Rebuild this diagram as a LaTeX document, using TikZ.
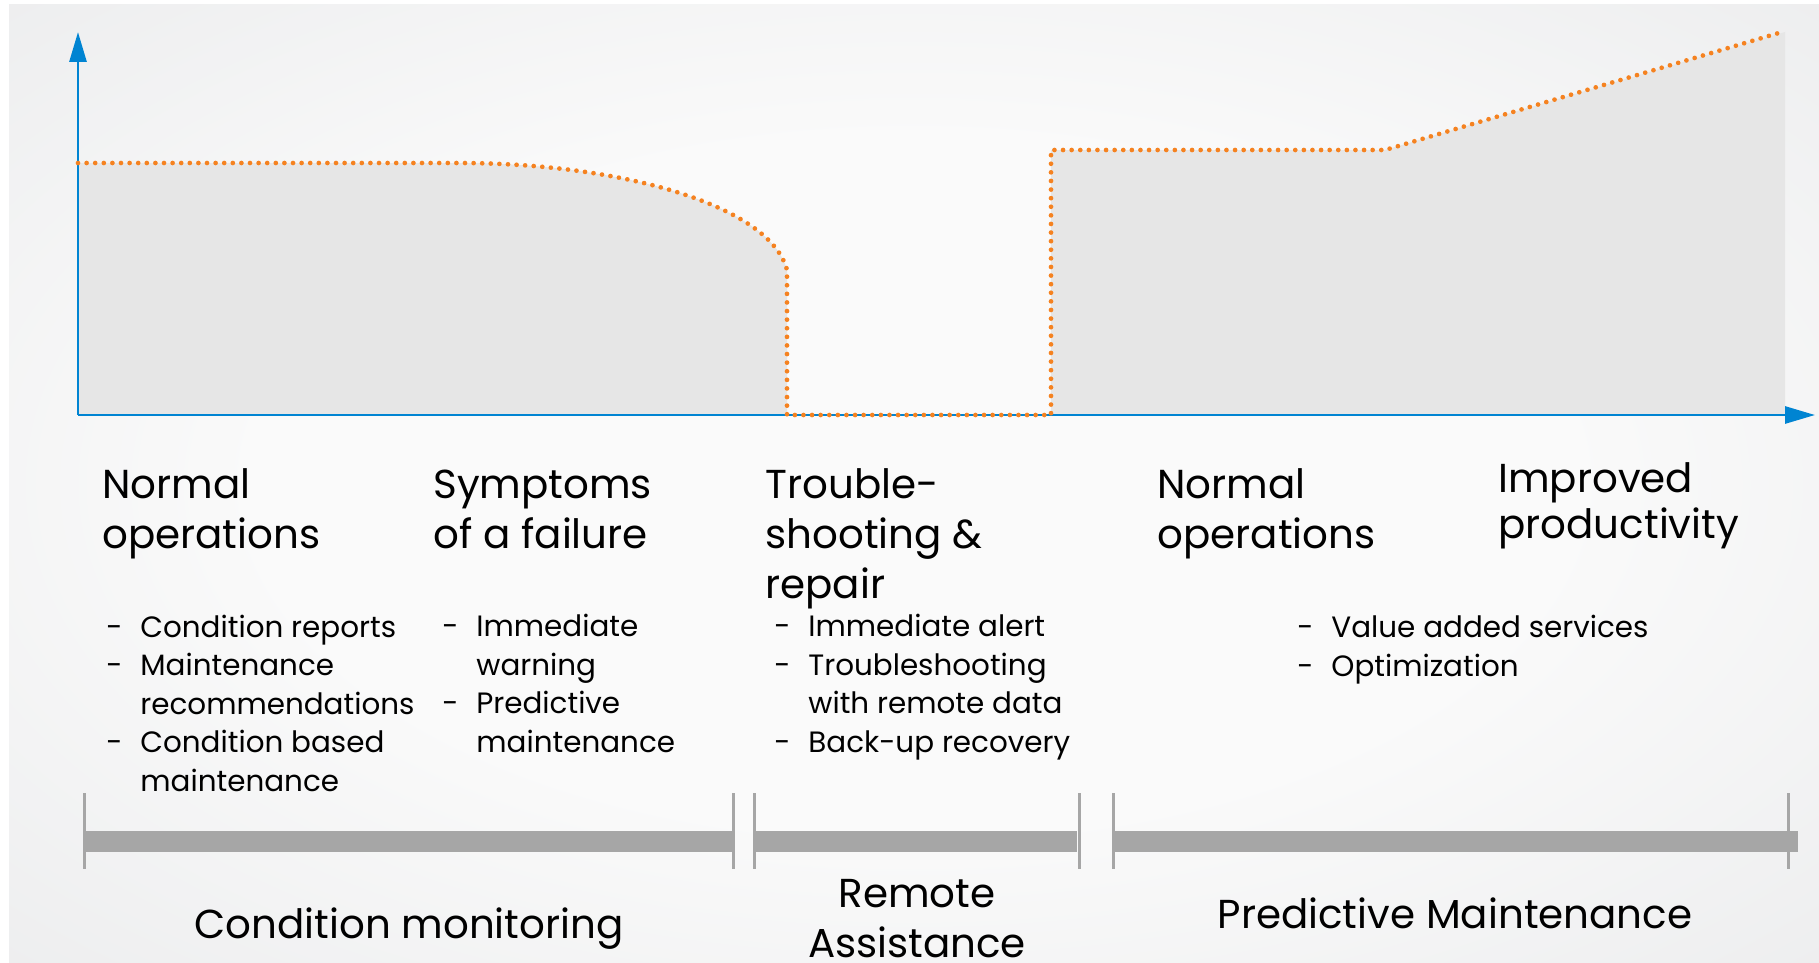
\documentclass[tikz,border=0pt]{standalone}
\usepackage{fontspec}
\setmainfont{Poppins}
\usetikzlibrary{arrows.meta,positioning}
\definecolor{axisblue}{RGB}{0,132,210}
\definecolor{curveorange}{RGB}{245,130,32}
\definecolor{areagray}{RGB}{230,230,230}
\definecolor{bargray}{RGB}{166,166,166}
\definecolor{bgdark}{RGB}{212,213,216}
\definecolor{bgmid}{RGB}{227,228,230}
\definecolor{bglight}{RGB}{250,250,250}
\pgfdeclareradialshading{backdrop}{\pgfpoint{0bp}{0bp}}{color(0bp)=(bglight); color(18bp)=(bglight); color(50bp)=(bgmid); color(72bp)=(bgdark)}
\newcommand{\dashitem}{\makebox[17pt][l]{-}}
\newcommand{\dashgap}{\hspace*{17pt}}
\tikzset{axis line/.style={axisblue,line width=1.4pt,-{Triangle[length=15pt,width=8.5pt]}},
         level curve/.style={curveorange,line width=2.35pt,line cap=round,dash pattern=on 0pt off 4.3pt},
         area/.style={fill=areagray,draw=none},
         phase bar/.style={bargray,line width=10.5pt},
         phase tick/.style={bargray,line width=1.5pt},
         stage title/.style={anchor=base west,inner sep=0pt,align=left,font=\fontsize{20.2}{25}\selectfont},
         task list/.style={anchor=base west,inner sep=0pt,align=left,font=\fontsize{14.7}{19.2}\selectfont},
         phase label/.style={anchor=base,inner sep=0pt,align=center,font=\fontsize{20.2}{25}\selectfont},
}
\begin{document}
\begin{tikzpicture}[x=0.5pt,y=-0.5pt]
\useasboundingbox (0,0) rectangle (1819,963);
\fill[white] (0,0) rectangle (1819,963);
\shade[shading=backdrop] (9,5) rectangle (1819,963);
% \draw[help lines,step=100] (0,0) grid (1819,963);

\fill[area] (78,415) -- (78,163) -- (459,163) .. controls (620,163) and (770,205) .. (787,270) -- (787,415) -- cycle;
\fill[area] (1051,415) -- (1051,150) -- (1385,150) -- (1785,32) -- (1785,415) -- cycle;

\coordinate (origin) at (78,415);
\coordinate (ytop) at (78,32);
\coordinate (xend) at (1815,415);
\draw[axis line] (origin) -- (ytop);
\draw[axis line] (origin) -- (xend);

\draw[level curve] (78,163) -- (459,163) .. controls (620,163) and (770,205) .. (787,270)
    -- (787,415) -- (1051,415) -- (1051,150) -- (1385,150) -- (1782,32);

% anchors sit on the last line
\node[stage title] (normal1) at (102,548) {Normal\\operations};
\node[stage title] (symptoms) at (433,548) {Symptoms\\of a failure};
\node[stage title] (repair) at (765,598) {Trouble-\\shooting \&\\repair};
\node[stage title] (normal2) at (1157,548) {Normal\\operations};
\node[stage title,font=\fontsize{20.2}{23}\selectfont] (improved) at (1498,538) {Improved\\productivity};

\node[task list] (tasks1) at (106,791) {\dashitem Condition reports\\\dashitem Maintenance\\\dashgap recommendations\\\dashitem Condition based\\\dashgap maintenance};
\node[task list] (tasks2) at (442,752) {\dashitem Immediate\\\dashgap warning\\\dashitem Predictive\\\dashgap maintenance};
\node[task list] (tasks3) at (774,752) {\dashitem Immediate alert\\\dashitem Troubleshooting\\\dashgap with remote data\\\dashitem Back-up recovery};
\node[task list] (tasks4) at (1297,676) {\dashitem Value added services\\\dashitem Optimization};

\draw[phase bar] (84,841.5) -- (733,841.5);
\draw[phase bar] (754,841.5) -- (1077,841.5);
\draw[phase bar] (1112,841.5) -- (1798,841.5);
\foreach \x in {84,733,754,1079,1113,1788}
    \draw[phase tick] (\x,793) -- (\x,869);

\node[phase label] (monitoring) at (409,938) {Condition monitoring};
\node[phase label] (remote) at (917,957) {Remote\\Assistance};
\node[phase label] (predictive) at (1455,928) {Predictive Maintenance};
\end{tikzpicture}
\end{document}
